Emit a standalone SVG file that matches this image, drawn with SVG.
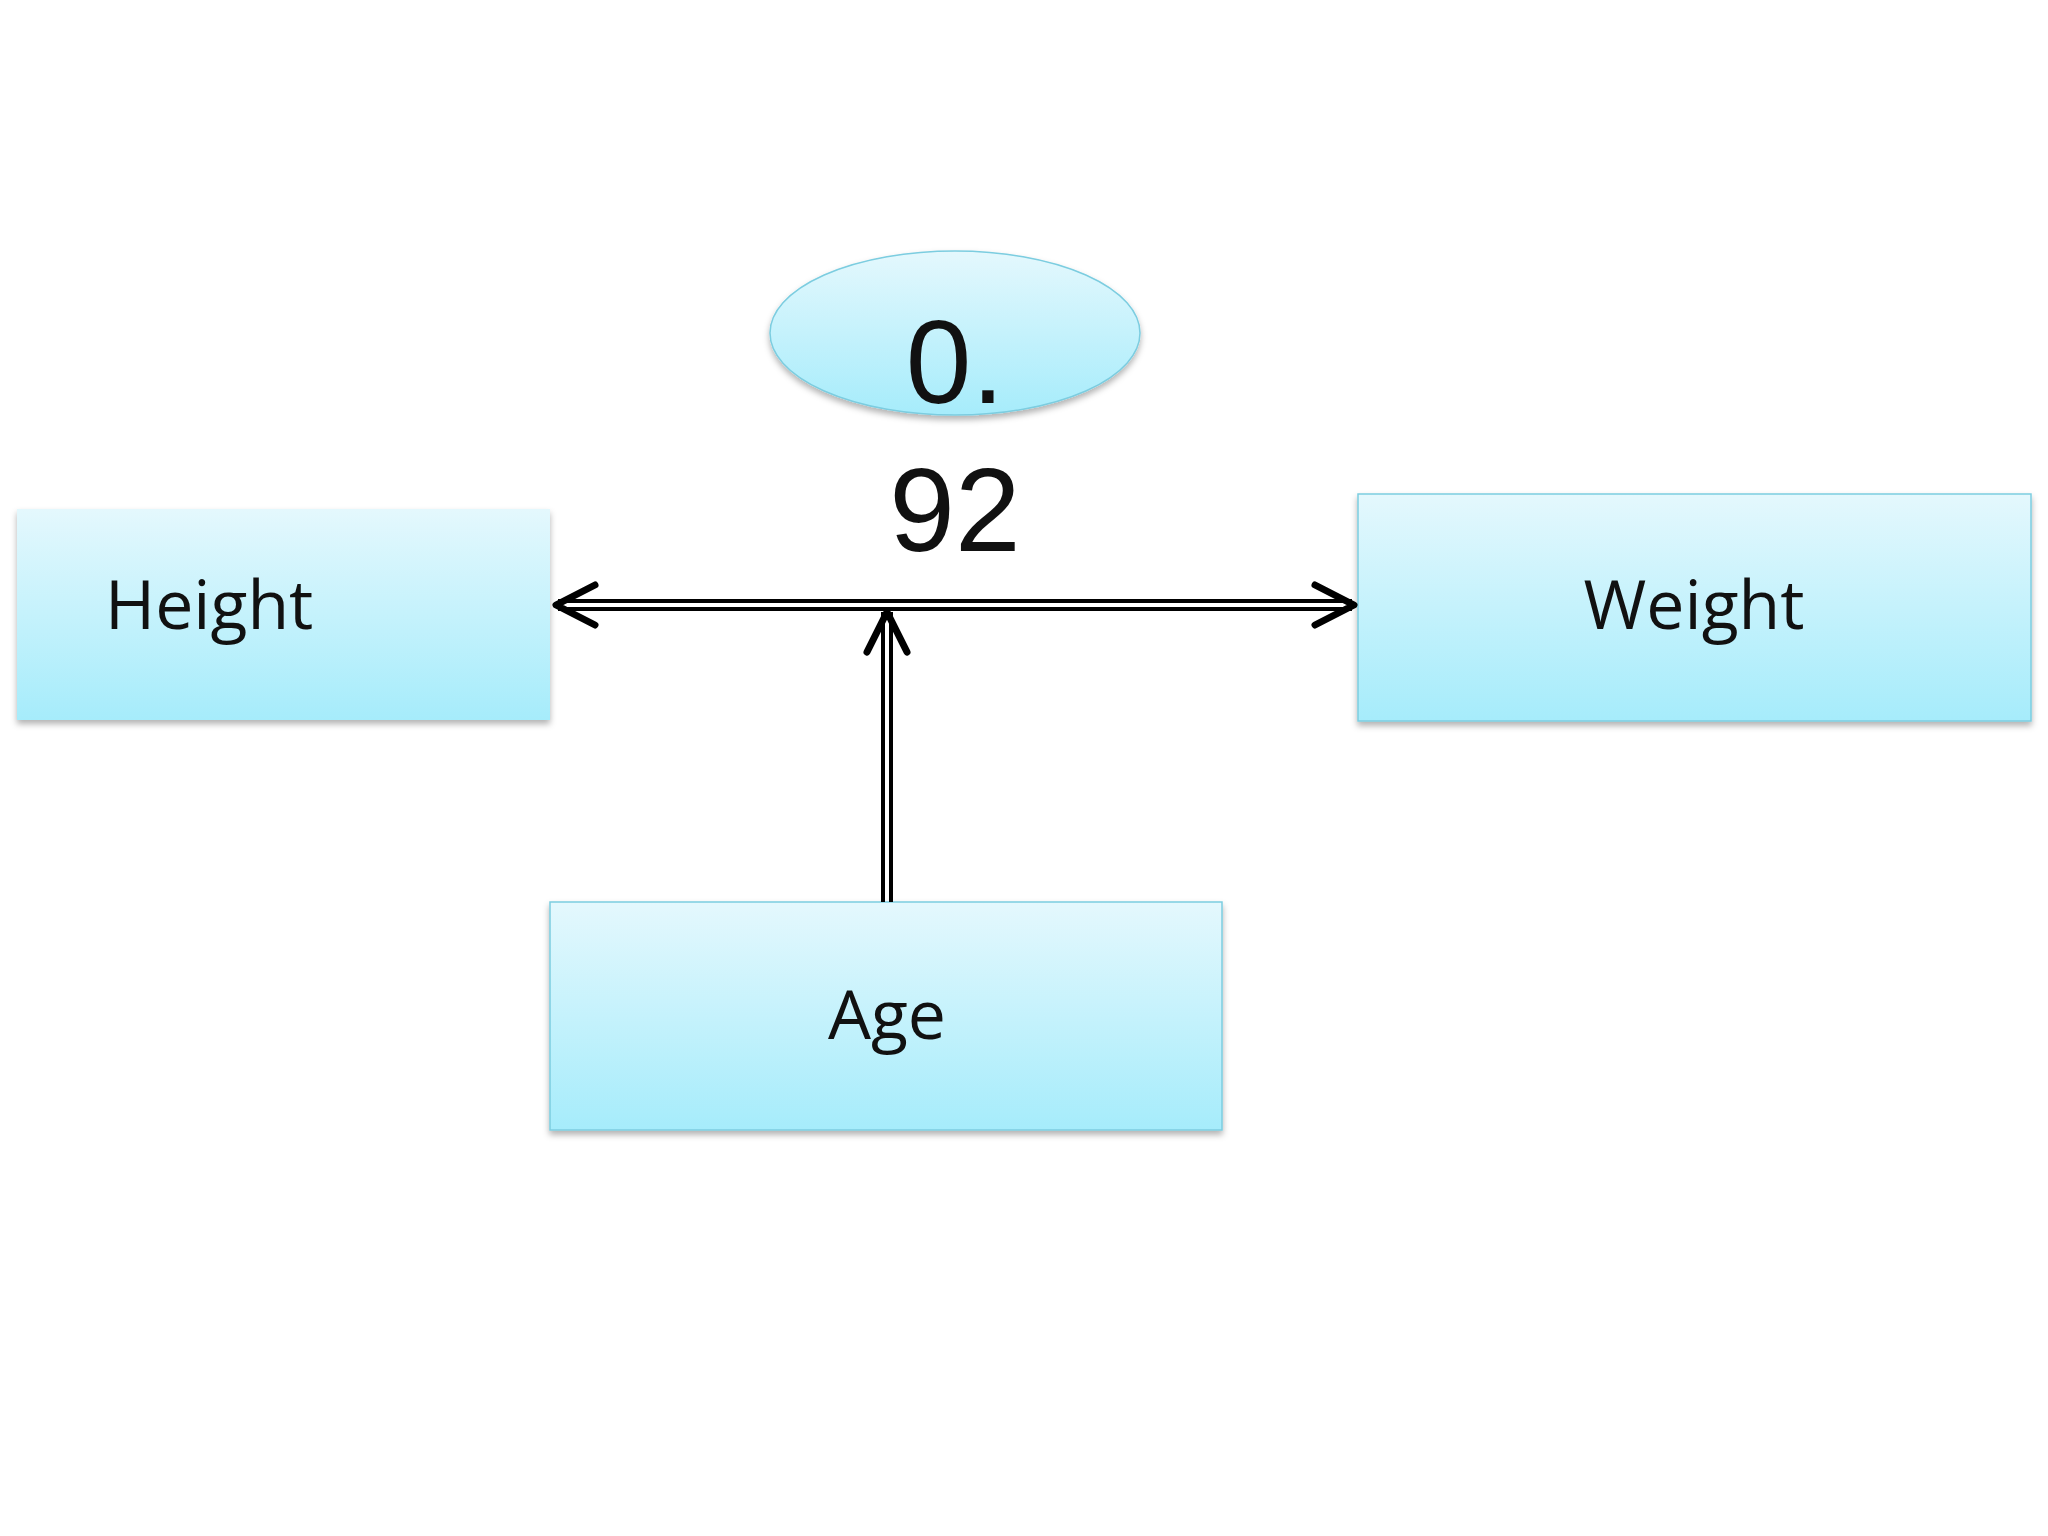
<svg xmlns="http://www.w3.org/2000/svg" width="2048" height="1536" viewBox="0 0 2048 1536">
<defs>
<linearGradient id="g" x1="0" y1="0" x2="0" y2="1"><stop offset="0" stop-color="#e4f8fd"/><stop offset="1" stop-color="#a6ecfb"/></linearGradient>
<filter id="sh" x="-5%" y="-5%" width="110%" height="120%"><feDropShadow dx="0" dy="4" stdDeviation="3" flood-color="#000" flood-opacity="0.3"/></filter>
<style>.box{fill:url(#g);stroke:#7ccde0;stroke-width:1.5;filter:url(#sh)}.lbl{font-family:"Open Sans","Liberation Sans",sans-serif;font-size:68px;fill:#111}.num{font-family:"Liberation Sans",sans-serif;font-size:118px;fill:#111;text-anchor:middle}.ln{stroke:#000;stroke-width:4;fill:none}.ah{stroke:#000;stroke-width:7;fill:none;stroke-linecap:round;stroke-linejoin:round}</style>
</defs>
<rect width="2048" height="1536" fill="#fff"/>
<g id="height"><rect class="box" x="17" y="509" width="533" height="211" style="stroke:none"/><text class="lbl" x="105" y="629">Height</text></g>
<g id="weight"><rect class="box" x="1358" y="494" width="673" height="227"/><text class="lbl" x="1694" y="629" text-anchor="middle">Weight</text></g>
<g id="age"><rect class="box" x="550" y="902" width="672" height="228"/><text class="lbl" x="887" y="1039" text-anchor="middle">Age</text></g>
<g id="corr"><ellipse class="box" cx="955" cy="333" rx="185" ry="82"/><text class="num" x="955" y="403">0.</text><text class="num" x="955" y="551">92</text></g>
<g id="connectors">
<line class="ln" x1="558" y1="601" x2="1352" y2="601"/>
<line class="ln" x1="558" y1="609" x2="1352" y2="609"/>
<line class="ln" x1="883" y1="612" x2="883" y2="902"/>
<line class="ln" x1="891" y1="612" x2="891" y2="902"/>
<polyline class="ah" points="595,585 556,605 595,625"/>
<polyline class="ah" points="1315,585 1354,605 1315,625"/>
<polyline class="ah" points="867,652 887,612 907,652"/>
</g>
</svg>
